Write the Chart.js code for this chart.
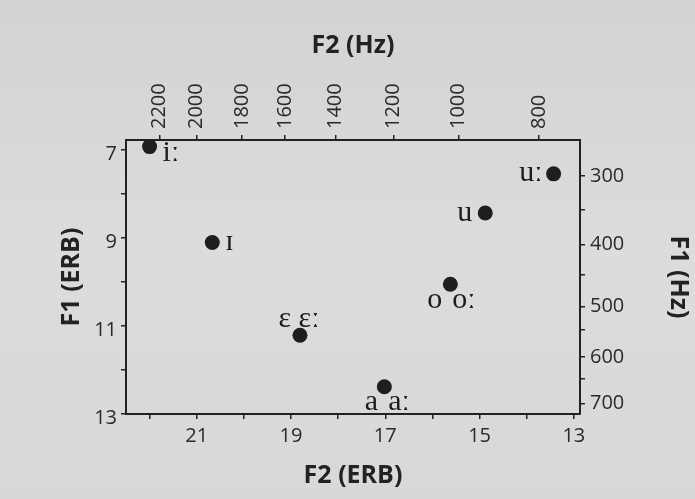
<!DOCTYPE html>
<html>
<head>
<meta charset="utf-8">
<script src="https://cdn.jsdelivr.net/npm/chart.js@4.4.1/dist/chart.umd.min.js"></script>
<style>
  html, body { margin: 0; padding: 0; background: #d9d9d7; }
  #wrap { width: 695px; height: 499px; position: relative; }
</style>
</head>
<body>
<div id="wrap"><canvas id="c" width="695" height="499"></canvas></div>
<script>
// ---- data ----
const vowelLabels = ['iː', 'ɪ', 'ɛ ɛː', 'a\u2004aː', 'o\u2004oː', 'u', 'uː'];
const f2Erb = [22.0, 20.67, 18.81, 17.02, 15.62, 14.88, 13.43];
const f1Erb = [6.92, 9.1, 11.21, 12.38, 10.05, 8.43, 7.54];

// bottom / left ERB tick values
const f2ErbTicks = [22, 21, 20, 19, 18, 17, 16, 15, 14, 13];
const f1ErbTicks = [7, 8, 9, 10, 11, 12, 13];

// top axis: F2 in Hz, and where each tick sits on the ERB scale
const f2HzTicks = [2200, 2000, 1800, 1600, 1400, 1200, 1000, 800];
const f2HzTickErb = [21.79, 21.0, 20.04, 19.13, 18.06, 16.83, 15.45, 13.74];

// right axis: F1 in Hz, and where each tick sits on the ERB scale
const f1HzTicks = [300, 350, 400, 450, 500, 550, 600, 650, 700];
const f1HzTickErb = [7.59, 8.35, 9.15, 9.84, 10.56, 11.09, 11.7, 12.19, 12.76];

// ---- styling / layout (not data) ----
const INK = '#222';
const TICK_FONT = { family: "'Open Sans', 'Liberation Sans', sans-serif", size: 20 };
const TITLE_FONT = { family: "'Open Sans', 'Liberation Sans', sans-serif", size: 25, weight: 'bold' };
const LABEL_FONT = "30px 'Liberation Serif', 'DejaVu Serif', serif";
const labelPlacement = [
  { dx: 13, dy: 7, align: 'left' },
  { dx: 13, dy: 0, align: 'left' },
  { dx: -1, dy: -16, align: 'center' },
  { dx: 3, dy: 15, align: 'center' },
  { dx: 1, dy: 16, align: 'center' },
  { dx: -13, dy: 0, align: 'right' },
  { dx: -11, dy: -1, align: 'right' }
];

const X_RANGE = { min: 12.87, max: 22.5 };
const Y_RANGE = { min: 6.77, max: 13.0 };

const bgPlugin = {
  id: 'bg',
  beforeDraw(chart) {
    const { ctx, width, height } = chart;
    ctx.save();
    const g = ctx.createLinearGradient(0, 0, 0, height);
    g.addColorStop(0, '#d3d3d1');
    g.addColorStop(0.5, '#dcdcda');
    g.addColorStop(1, '#d8d8d6');
    ctx.fillStyle = g;
    ctx.fillRect(0, 0, width, height);
    ctx.restore();
  }
};

const labelPlugin = {
  id: 'vowelLabels',
  afterDatasetsDraw(chart) {
    const { ctx } = chart;
    const meta = chart.getDatasetMeta(0);
    ctx.save();
    ctx.font = LABEL_FONT;
    ctx.fillStyle = '#1c1c1c';
    ctx.textBaseline = 'middle';
    meta.data.forEach((pt, i) => {
      const p = labelPlacement[i];
      ctx.textAlign = p.align;
      ctx.fillText(vowelLabels[i], pt.x + p.dx, pt.y + p.dy);
    });
    ctx.restore();
  }
};

function axisCommon() {
  return {
    type: 'linear',
    border: { display: true, color: INK, width: 2 },
    grid: { display: true, drawOnChartArea: false, drawTicks: true, tickLength: 5, color: INK, lineWidth: 1.5 },
    ticks: { color: '#2a2a2a', font: TICK_FONT, autoSkip: false },
    title: { display: true, color: INK, font: TITLE_FONT }
  };
}

const xAxis = axisCommon();
Object.assign(xAxis, {
  position: 'bottom', reverse: true, min: X_RANGE.min, max: X_RANGE.max,
  afterBuildTicks: s => { s.ticks = f2ErbTicks.map(v => ({ value: v })); },
  afterFit: s => { s.height = 85; }
});
xAxis.ticks.callback = v => (v % 2 === 1 ? String(v) : '');
xAxis.ticks.maxRotation = 0; xAxis.ticks.padding = 5;
xAxis.title.text = 'F2 (ERB)'; xAxis.title.padding = { top: 0, bottom: 8 };

const x2Axis = axisCommon();
Object.assign(x2Axis, {
  position: 'top', reverse: true, min: X_RANGE.min, max: X_RANGE.max,
  afterBuildTicks: s => { s.ticks = f2HzTickErb.map(v => ({ value: v })); },
  afterFit: s => { s.height = 140; }
});
x2Axis.ticks.callback = (v, i) => String(f2HzTicks[i]);
x2Axis.ticks.minRotation = 90; x2Axis.ticks.maxRotation = 90; x2Axis.ticks.padding = 6;
x2Axis.ticks.labelOffset = 24;
x2Axis.title.text = 'F2 (Hz)'; x2Axis.title.padding = { top: 31, bottom: 0 };

const yAxis = axisCommon();
Object.assign(yAxis, {
  position: 'left', reverse: true, min: Y_RANGE.min, max: Y_RANGE.max,
  afterBuildTicks: s => { s.ticks = f1ErbTicks.map(v => ({ value: v })); },
  afterFit: s => { s.width = 126; }
});
yAxis.ticks.callback = v => (v % 2 === 1 ? String(v) : '');
yAxis.ticks.padding = 4; yAxis.ticks.labelOffset = 4;
yAxis.title.text = 'F1 (ERB)'; yAxis.title.padding = { top: 57, bottom: 0 };

const y2Axis = axisCommon();
Object.assign(y2Axis, {
  position: 'right', reverse: true, min: Y_RANGE.min, max: Y_RANGE.max,
  afterBuildTicks: s => { s.ticks = f1HzTickErb.map(v => ({ value: v })); },
  afterFit: s => { s.width = 115; }
});
y2Axis.ticks.callback = (v, i) => (f1HzTicks[i] % 100 === 0 ? String(f1HzTicks[i]) : '');
y2Axis.ticks.padding = 5;
y2Axis.title.text = 'F1 (Hz)'; y2Axis.title.padding = { top: 2, bottom: 0 };

new Chart(document.getElementById('c'), {
  type: 'scatter',
  data: {
    datasets: [{
      data: f2Erb.map((x, i) => ({ x, y: f1Erb[i] })),
      xAxisID: 'x', yAxisID: 'y',
      pointRadius: 7.5, pointHoverRadius: 7.5,
      backgroundColor: '#1e1e1e', borderColor: '#1e1e1e', borderWidth: 0
    }]
  },
  options: {
    responsive: false,
    animation: false,
    layout: { padding: 0 },
    plugins: { legend: { display: false }, tooltip: { enabled: false } },
    scales: { x: xAxis, x2: x2Axis, y: yAxis, y2: y2Axis }
  },
  plugins: [bgPlugin, labelPlugin]
});
</script>
</body>
</html>
